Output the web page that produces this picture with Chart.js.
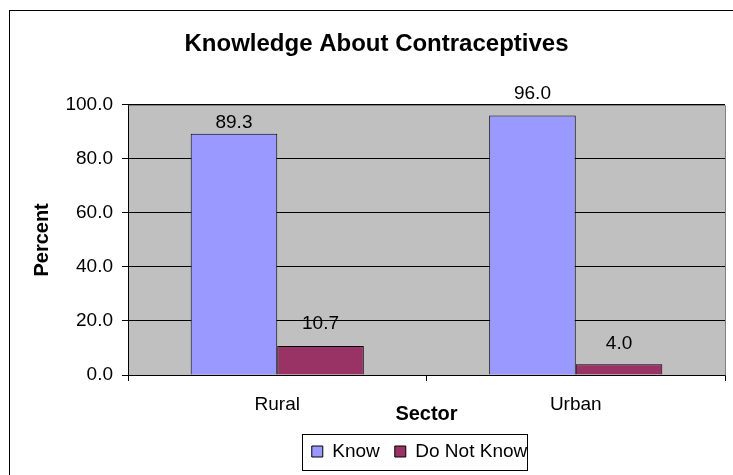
<!DOCTYPE html>
<html>
<head>
<meta charset="utf-8">
<script src="https://cdn.jsdelivr.net/npm/chart.js@4.4.0/dist/chart.umd.min.js"></script>
<style>
  html, body { margin: 0; padding: 0; background: #fff; }
  #wrap { width: 733px; height: 475px; }
</style>
</head>
<body>
<div id="wrap"><canvas id="myChart" width="733" height="475"></canvas></div>
<script>
// chart data
const sectors = ["Rural", "Urban"];
const knowValues = [89.3, 96.0];
const notKnowValues = [10.7, 4.0];
const yTicks = [0, 20, 40, 60, 80, 100];

const FONT = "Arial, 'Liberation Sans', sans-serif";

// gray plot area + outer frame + legend border
const backgroundPlugin = {
  id: "plotBg",
  afterLayout(chart) {
    // the original has title a bit right of centre, legend a bit left
    chart.titleBlock.left += 9;
    chart.titleBlock.right += 9;
    chart.legend.left -= 7;
    chart.legend.right -= 7;
  },
  beforeDraw(chart) {
    const ctx = chart.ctx;
    const a = chart.chartArea;
    ctx.save();
    ctx.fillStyle = "#ffffff";
    ctx.fillRect(0, 0, chart.width, chart.height);
    // outer frame (right and bottom edges fall outside the picture)
    ctx.strokeStyle = "#000000";
    ctx.lineWidth = 1;
    ctx.strokeRect(9.5, 10.5, chart.width + 10, chart.height + 10);
    ctx.fillStyle = "#c0c0c0";
    ctx.fillRect(a.left, a.top, a.right - a.left, a.bottom - a.top);
    ctx.restore();
  },
  afterDraw(chart) {
    const ctx = chart.ctx;
    const a = chart.chartArea;
    ctx.save();
    // plot area border top/right in gray
    ctx.strokeStyle = "#808080";
    ctx.lineWidth = 1;
    ctx.beginPath();
    ctx.moveTo(Math.round(a.left) + 0.5, Math.round(a.top) + 0.5);
    ctx.lineTo(Math.round(a.right) + 0.5, Math.round(a.top) + 0.5);
    ctx.lineTo(Math.round(a.right) + 0.5, Math.round(a.bottom) + 0.5);
    ctx.stroke();
    // legend border
    const boxes = chart.legend.legendHitBoxes;
    if (boxes && boxes.length) {
      let l = Infinity, r = -Infinity, t = Infinity, b = -Infinity;
      boxes.forEach((h) => {
        l = Math.min(l, h.left);
        r = Math.max(r, h.left + h.width);
        t = Math.min(t, h.top);
        b = Math.max(b, h.top + h.height);
      });
      const cy = (t + b) / 2;
      ctx.strokeStyle = "#000000";
      ctx.strokeRect(Math.round(l - 10) + 0.5, Math.round(cy - 18) + 0.5, Math.round(r - l + 10), 36);
    }
    ctx.restore();
  }
};

// value labels above the bars
const valueLabels = {
  id: "valueLabels",
  afterDatasetsDraw(chart, args, opts) {
    const ctx = chart.ctx;
    ctx.save();
    ctx.font = "19px " + FONT;
    ctx.fillStyle = "#000000";
    ctx.textAlign = "center";
    ctx.textBaseline = "middle";
    chart.data.datasets.forEach((ds, i) => {
      const meta = chart.getDatasetMeta(i);
      meta.data.forEach((bar, j) => {
        const off = opts.offsets[i][j];
        ctx.fillText(ds.data[j].toFixed(1), bar.x, bar.y - off);
      });
    });
    ctx.restore();
  }
};

const ctx = document.getElementById("myChart").getContext("2d");
const myChart = new Chart(ctx, {
  type: "bar",
  data: {
    labels: sectors,
    datasets: [
      {
        label: "Know",
        data: knowValues,
        backgroundColor: "#9999ff",
        borderColor: "#000000",
        borderWidth: 1,
        categoryPercentage: 0.58,
        barPercentage: 1.0
      },
      {
        label: "Do Not Know",
        data: notKnowValues,
        backgroundColor: "#993366",
        borderColor: "#000000",
        borderWidth: 1,
        categoryPercentage: 0.58,
        barPercentage: 1.0
      }
    ]
  },
  options: {
    responsive: false,
    animation: false,
    devicePixelRatio: 1,
    layout: {
      padding: { left: 10, right: 8, top: 0, bottom: 4 }
    },
    plugins: {
      title: {
        display: true,
        text: "Knowledge About Contraceptives",
        color: "#000000",
        font: { family: FONT, size: 24, weight: "bold" },
        padding: { top: 30, bottom: 46 }
      },
      legend: {
        position: "bottom",
        fullSize: false,
        labels: {
          color: "#000000",
          font: { family: FONT, size: 19 },
          boxWidth: 11,
          boxHeight: 11,
          padding: 15
        }
      },
      tooltip: { enabled: false },
      valueLabels: {
        offsets: [[11, 22], [22, 20]]
      }
    },
    scales: {
      x: {
        afterFit(scale) { scale.height = 52; },
        grid: {
          offset: true,
          drawOnChartArea: false,
          drawTicks: true,
          tickLength: 6,
          color: "#000000"
        },
        border: { color: "#000000", width: 1 },
        ticks: {
          color: "#000000",
          font: { family: FONT, size: 19 },
          padding: 12
        },
        title: {
          display: true,
          text: "Sector",
          color: "#000000",
          font: { family: FONT, size: 20, weight: "bold" },
          padding: { top: 0, bottom: 1 }
        }
      },
      y: {
        min: 0,
        max: 100,
        afterFit(scale) { scale.width = 118; },
        afterBuildTicks(scale) {
          scale.ticks = yTicks.map((v) => ({ value: v }));
        },
        grid: {
          color: "#000000",
          drawTicks: true,
          tickLength: 6
        },
        border: { color: "#000000", width: 1 },
        ticks: {
          color: "#000000",
          font: { family: FONT, size: 19 },
          padding: 9,
          callback: (v) => Number(v).toFixed(1)
        },
        title: {
          display: true,
          text: "Percent",
          color: "#000000",
          font: { family: FONT, size: 20, weight: "bold" },
          padding: { top: 20, bottom: 0 }
        }
      }
    }
  },
  plugins: [backgroundPlugin, valueLabels]
});
</script>
</body>
</html>
